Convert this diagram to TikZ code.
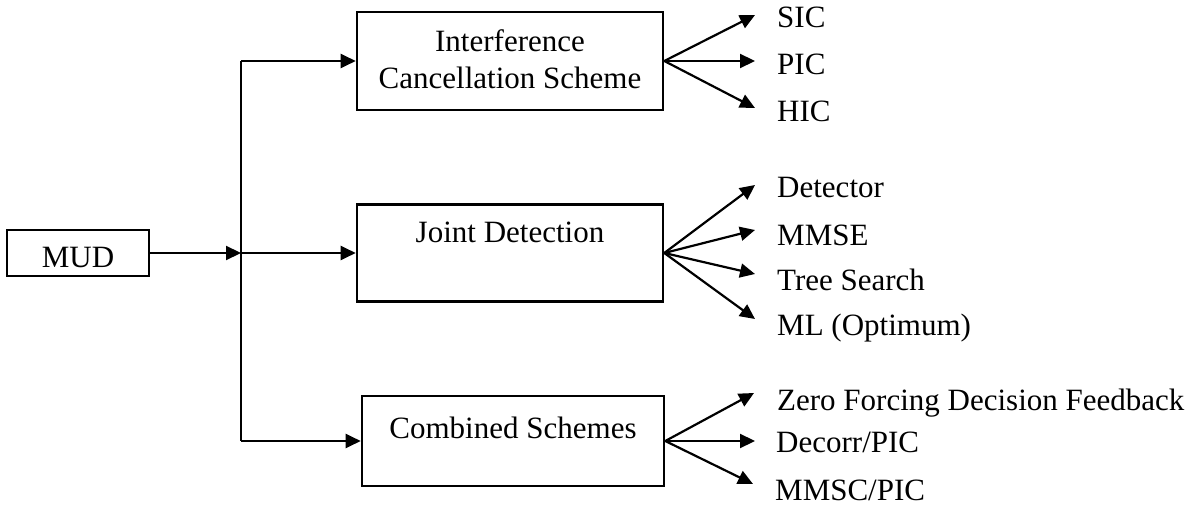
\documentclass[tikz,border=0pt]{standalone}
\usepackage{fontspec}
\setmainfont{Liberation Serif}
\usetikzlibrary{arrows.meta}
\begin{document}
\begin{tikzpicture}[x=1pt,y=-1pt,
  boxstyle/.style={draw,line width=2.6pt,inner sep=0pt},
  lbl/.style={inner sep=0pt,font=\fontsize{31}{37}\selectfont},
  arr/.style={line width=2.2pt,-{Triangle[length=15pt,width=14pt]}},
  plain/.style={line width=2.2pt}]
\useasboundingbox (0,0) rectangle (1199,505);
% boxes
\node[boxstyle,minimum width=142pt,minimum height=46pt] (mud) at (78,253) {};
\node[boxstyle,minimum width=306pt,minimum height=98pt] (ic) at (510,61) {};
\node[boxstyle,minimum width=306pt,minimum height=97pt] (jd) at (510,253) {};
\node[boxstyle,minimum width=302pt,minimum height=90pt] (cs) at (513,441) {};
% box texts
\node[lbl,anchor=base] (mudt) at (78,267) {MUD};
\node[lbl,align=center] (ict) at (510,59) {Interference\\Cancellation Scheme};
\node[lbl,anchor=base] (jdt) at (510,243) {Joint Detection};
\node[lbl,anchor=base] (cst) at (513,438) {Combined Schemes};
% junction
\coordinate (j) at (241,253);
\coordinate (jtop) at (241,61);
\coordinate (jbot) at (241,441);
\draw[arr] (mud.east) -- (j);
\draw[plain] (jtop) -- (jbot);
\draw[arr] (jtop) -- (ic.west);
\draw[arr] (j) -- (jd.west);
\draw[arr] (jbot) -- (cs.west);
% tips
\coordinate (t1) at (755,15);
\coordinate (t2) at (755,61);
\coordinate (t3) at (755,108);
\coordinate (t4) at (755,185);
\coordinate (t5) at (755,230);
\coordinate (t6) at (755,274);
\coordinate (t7) at (755,319);
\coordinate (t8) at (754,393);
\coordinate (t9) at (755,441);
\coordinate (t10) at (753,484);
\foreach \t in {t1,t2,t3} \draw[arr] (ic.east) -- (\t);
\foreach \t in {t4,t5,t6,t7} \draw[arr] (jd.east) -- (\t);
\foreach \t in {t8,t9,t10} \draw[arr] (cs.east) -- (\t);
% leaf texts
\node[lbl,anchor=base west] (sic) at (777,28) {SIC};
\node[lbl,anchor=base west] (pic) at (777,75) {PIC};
\node[lbl,anchor=base west] (hic) at (777,122) {HIC};
\node[lbl,anchor=base west] (det) at (777,197) {Detector};
\node[lbl,anchor=base west] (mmse) at (777,245) {MMSE};
\node[lbl,anchor=base west] (tree) at (777,290) {Tree Search};
\node[lbl,anchor=base west] (ml) at (777,335) {ML (Optimum)};
\node[lbl,anchor=base west] (zf) at (777,410) {Zero Forcing Decision Feedback};
\node[lbl,anchor=base west] (dec) at (776,452) {Decorr/PIC};
\node[lbl,anchor=base west] (mmsc) at (775,500) {MMSC/PIC};
\end{tikzpicture}
\end{document}
